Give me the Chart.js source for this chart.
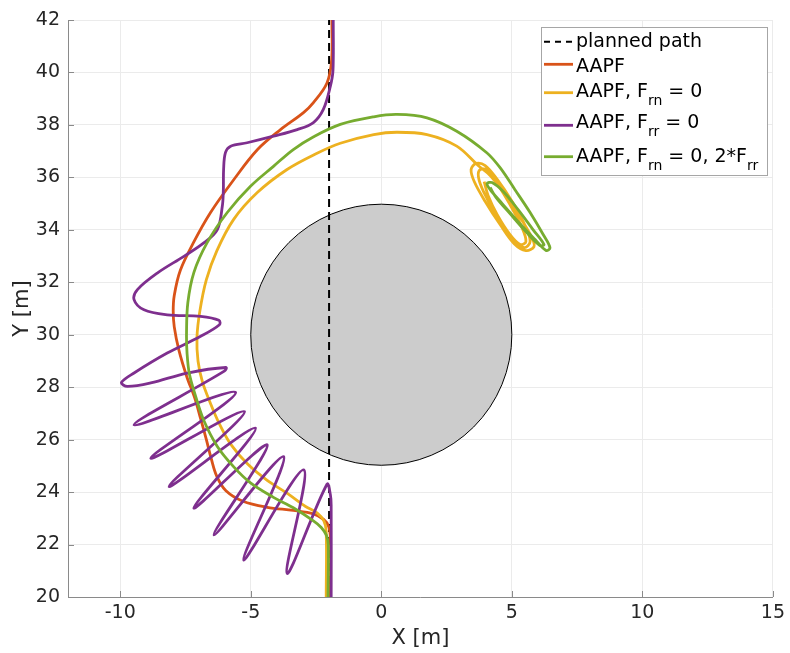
<!DOCTYPE html>
<html>
<head>
<meta charset="utf-8">
<script src="https://cdn.jsdelivr.net/npm/chart.js@4.4.0/dist/chart.umd.min.js"></script>
<style>
html, body { margin: 0; padding: 0; background: #fff; }
#wrap { width: 790px; height: 653px; }
</style>
</head>
<body>
<div id="wrap"><canvas id="grafica" width="790" height="653"></canvas></div>
<script>
// axis ticks
const xTicks = [-10, -5, 0, 5, 10, 15];
const yTicks = [20, 22, 24, 26, 28, 30, 32, 34, 36, 38, 40, 42];

// obstacle
const obstacleCenter = [0, 30];
const obstacleRadius = 5;

// paths [x, y]
const plannedPath = [[-2, 20], [-2, 42]];

const aapfPath = [
    [-1.95, 20], [-1.95, 22.3], [-2.02, 22.7], [-2.2, 22.95], [-2.6, 23.17], [-3.37, 23.3],
    [-4.37, 23.42], [-5.3, 23.65], [-5.95, 24.05], [-6.3, 24.6], [-6.52, 25.3], [-6.7, 26.0],
    [-6.92, 26.8], [-7.15, 27.6], [-7.45, 28.4], [-7.75, 29.4], [-7.93, 30.3], [-7.97, 30.9],
    [-7.93, 31.5], [-7.7, 32.45], [-7.2, 33.5], [-6.54, 34.66], [-5.66, 35.9], [-4.74, 37.06],
    [-3.86, 37.82], [-2.98, 38.47], [-2.6, 38.85], [-2.08, 39.6], [-1.9, 40.5], [-1.89, 42]
];

const frnZeroPath = [
    [-2.11, 20], [-2.11, 22.5], [-2.2, 22.9], [-2.45, 23.2], [-2.9, 23.45], [-3.6, 23.95],
    [-4.37, 24.45], [-5.1, 25.05], [-5.75, 25.8], [-6.2, 26.6], [-6.55, 27.4], [-6.85, 28.2],
    [-7.02, 29.0], [-7.06, 29.9], [-6.95, 30.9], [-6.7, 32.1], [-6.3, 33.2], [-5.66, 34.39],
    [-4.75, 35.42], [-3.61, 36.3], [-2.5, 36.9], [-1.57, 37.3], [-0.29, 37.63], [0.6, 37.72],
    [1.75, 37.63], [2.89, 37.19], [3.71, 36.45], [4.17, 36.07], [4.74, 35.34], [5.32, 34.47],
    [5.77, 33.7], [5.85, 33.36], [5.54, 33.21], [5.09, 33.47], [4.55, 34.2], [3.98, 35.08],
    [3.56, 35.84], [3.44, 36.3], [3.63, 36.53], [3.98, 36.45], [4.44, 35.92], [5.01, 35.08],
    [5.51, 34.16], [5.7, 33.55], [5.47, 33.32], [5.05, 33.63], [4.51, 34.39], [4.05, 35.19],
    [3.75, 35.88], [3.75, 36.26], [4.02, 36.3], [4.44, 35.76], [4.93, 34.96], [5.39, 34.08],
    [5.54, 33.55], [5.32, 33.44], [4.93, 33.82], [4.44, 34.58], [4.09, 35.31], [3.94, 35.84]
];

const frrZeroPath = [
    [-1.84, 42], [-1.85, 40.09], [-1.95, 39.48], [-2.22, 38.59], [-2.6, 38.09], [-3.22, 37.82],
    [-4.13, 37.57], [-5.14, 37.32], [-5.77, 37.19], [-5.97, 36.94], [-6.04, 36.3], [-6.05, 35.5],
    [-6.09, 34.9], [-6.28, 34.01], [-6.8, 33.5], [-7.56, 32.99], [-8.58, 32.35], [-9.34, 31.72],
    [-9.47, 31.34], [-9.09, 30.95], [-8.2, 30.76], [-6.92, 30.7], [-6.22, 30.55], [-6.2, 30.38],
    [-6.92, 29.94], [-8.2, 29.3], [-9.47, 28.54], [-9.95, 28.18], [-9.73, 28.03], [-8.83, 28.16],
    [-7.43, 28.54], [-5.95, 28.75], [-6.0, 28.62],
    [-9.47, 26.56], [-5.58, 27.8],
    [-8.83, 25.29], [-5.24, 27.07],
    [-8.13, 24.21], [-4.82, 26.44],
    [-7.18, 23.39], [-4.37, 25.8],
    [-6.41, 22.37], [-3.74, 25.35],
    [-5.27, 21.41], [-2.97, 24.85],
    [-3.61, 20.9], [-2.08, 24.3],
    [-1.95, 23.9], [-1.92, 23.5], [-1.92, 20]
];

const frnZero2FrrPath = [
    [-2.04, 20], [-2.03, 22.0], [-2.1, 22.35], [-2.3, 22.65], [-2.6, 22.9], [-3.37, 23.4],
    [-4.13, 23.8], [-5.01, 24.35], [-5.66, 24.97], [-6.28, 25.74], [-6.81, 26.76], [-7.11, 27.65],
    [-7.35, 28.5], [-7.44, 29.3], [-7.46, 30.08], [-7.41, 31.22], [-7.18, 32.37], [-6.67, 33.51],
    [-5.9, 34.66], [-5.01, 35.66], [-4.13, 36.42], [-3.37, 37.06], [-2.59, 37.55], [-1.57, 38.02],
    [-0.29, 38.31], [0.6, 38.4], [1.75, 38.27], [2.89, 37.76], [4.04, 36.94], [4.55, 36.37],
    [5.12, 35.53], [5.7, 34.66], [6.2, 33.82], [6.46, 33.32], [6.31, 33.21], [5.89, 33.63],
    [5.24, 34.31], [4.63, 35.0], [4.17, 35.53], [4.05, 35.76], [4.24, 35.8], [4.67, 35.46],
    [5.24, 34.77], [5.81, 34.01], [6.23, 33.44], [6.08, 33.4], [5.54, 33.93], [4.93, 34.62],
    [4.4, 35.23], [4.17, 35.61]
];

// legend text, [text, isSubscript]
const legendLabels = [
    [['planned path', 0]],
    [['AAPF', 0]],
    [['AAPF, F', 0], ['rn', 1], [' = 0', 0]],
    [['AAPF, F', 0], ['rr', 1], [' = 0', 0]],
    [['AAPF, F', 0], ['rn', 1], [' = 0, 2*F', 0], ['rr', 1]]
];

const colores = ['#000000', '#D95319', '#EDB120', '#7E2F8E', '#77AC30'];
const fuente = '"DejaVu Sans", sans-serif';

function toPoints(arr) {
    return arr.map(p => ({ x: p[0], y: p[1] }));
}

const extras = {
    id: 'extras',
    beforeDatasetsDraw(chart) {
        const { ctx, chartArea, scales: { x, y } } = chart;
        ctx.save();
        // obstacle
        const cx = x.getPixelForValue(obstacleCenter[0]);
        const cy = y.getPixelForValue(obstacleCenter[1]);
        const r = x.getPixelForValue(obstacleCenter[0] + obstacleRadius) - cx;
        ctx.beginPath();
        ctx.arc(cx, cy, r, 0, Math.PI * 2);
        ctx.fillStyle = '#cccccc';
        ctx.fill();
        ctx.lineWidth = 1;
        ctx.strokeStyle = '#000';
        ctx.stroke();
        // ticks pointing inward
        ctx.strokeStyle = '#8a8a8a';
        ctx.beginPath();
        for (const v of xTicks) {
            const px = Math.round(x.getPixelForValue(v)) + 0.5;
            ctx.moveTo(px, chartArea.bottom);
            ctx.lineTo(px, chartArea.bottom - 6);
        }
        for (const v of yTicks) {
            const py = Math.round(y.getPixelForValue(v)) + 0.5;
            ctx.moveTo(chartArea.left, py);
            ctx.lineTo(chartArea.left + 6, py);
        }
        ctx.stroke();
        ctx.restore();
    },
    afterDraw(chart) {
        const ctx = chart.ctx;
        const lineY = [41.7, 64.3, 92.7, 125.3, 156.7];
        const baseY = [47, 71.5, 96.5, 128, 161.5];
        ctx.save();
        ctx.fillStyle = '#fff';
        ctx.fillRect(541, 27, 226, 148);
        ctx.strokeStyle = '#a6a6a6';
        ctx.lineWidth = 1;
        ctx.strokeRect(541.5, 27.5, 226, 148);
        legendLabels.forEach((parts, i) => {
            ctx.beginPath();
            ctx.moveTo(544, lineY[i]);
            ctx.lineTo(573, lineY[i]);
            ctx.strokeStyle = colores[i];
            ctx.lineWidth = i ? 2.8 : 2;
            ctx.setLineDash(i ? [] : [6, 5]);
            ctx.stroke();
            ctx.setLineDash([]);
            let tx = 576;
            ctx.fillStyle = '#000';
            ctx.textBaseline = 'alphabetic';
            parts.forEach(([t, sub]) => {
                ctx.font = (sub ? '14px ' : '19px ') + fuente;
                ctx.fillText(t, tx, baseY[i] + (sub ? 8 : 0));
                tx += ctx.measureText(t).width;
            });
        });
        ctx.restore();
    }
};

function linea(label, data, color, order, dash) {
    return {
        label: label,
        data: toPoints(data),
        showLine: true,
        borderColor: color,
        backgroundColor: color,
        borderWidth: dash ? 2 : 2.8,
        borderDash: dash || [],
        pointRadius: 0,
        tension: dash ? 0 : 0.35,
        order: order
    };
}

const config = {
    type: 'scatter',
    data: {
        datasets: [
            linea('planned path', plannedPath, colores[0], 5, [8, 5]),
            linea('AAPF', aapfPath, colores[1], 4),
            linea('AAPF, Frn = 0', frnZeroPath, colores[2], 3),
            linea('AAPF, Frr = 0', frrZeroPath, colores[3], 2),
            linea('AAPF, Frn = 0, 2*Frr', frnZero2FrrPath, colores[4], 1)
        ]
    },
    options: {
        responsive: false,
        animation: false,
        devicePixelRatio: 1,
        layout: { padding: { top: 20, right: 15, left: 0, bottom: 0 } },
        plugins: { legend: { display: false }, tooltip: { enabled: false } },
        scales: {
            x: {
                type: 'linear', min: -12, max: 15,
                afterBuildTicks: s => { s.ticks = xTicks.map(v => ({ value: v })); },
                afterFit: s => { s.height = 56; },
                grid: { color: '#ebebeb', drawTicks: false },
                border: { color: '#8a8a8a' },
                ticks: { padding: 5, color: '#262626', font: { family: fuente, size: 19 } },
                title: { display: true, text: 'X [m]', color: '#262626', font: { family: fuente, size: 21 }, padding: { top: 0, bottom: 2 } }
            },
            y: {
                type: 'linear', min: 20, max: 42,
                afterBuildTicks: s => { s.ticks = yTicks.map(v => ({ value: v })); },
                afterFit: s => { s.width = 68; },
                grid: { color: '#ebebeb', drawTicks: false },
                border: { color: '#8a8a8a' },
                ticks: { padding: 8, color: '#262626', font: { family: fuente, size: 19 } },
                title: { display: true, text: 'Y [m]', color: '#262626', font: { family: fuente, size: 21 }, padding: { top: 10, bottom: 0 } }
            }
        }
    },
    plugins: [extras]
};

new Chart(document.getElementById('grafica'), config);
</script>
</body>
</html>
